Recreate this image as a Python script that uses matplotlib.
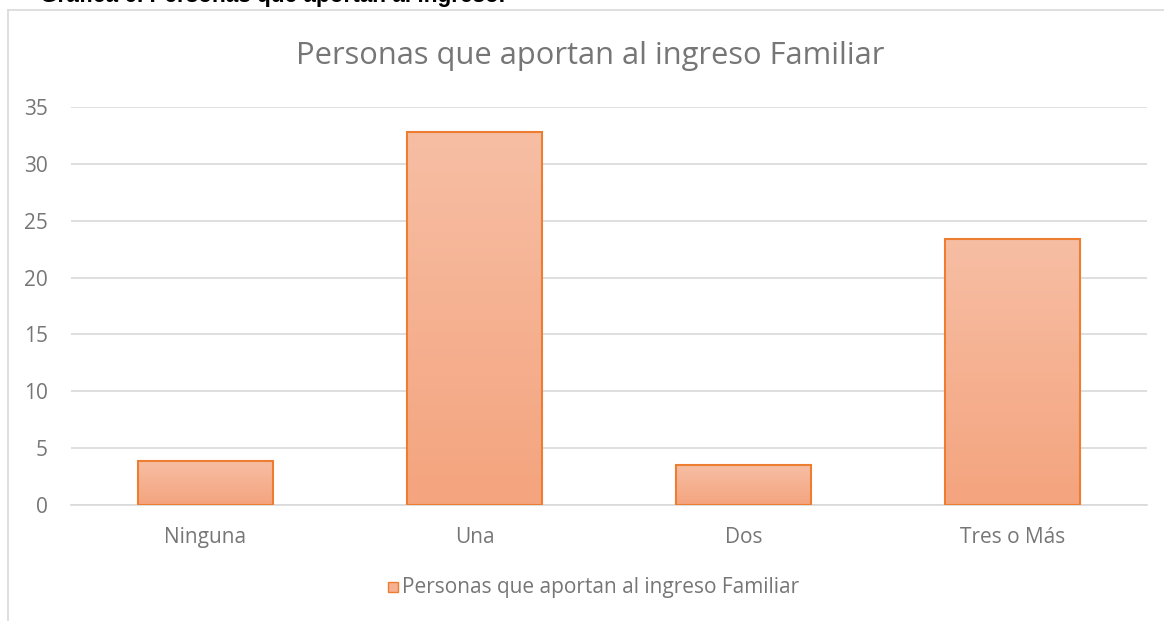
import numpy as np
import matplotlib
matplotlib.use('Agg')
import matplotlib.pyplot as plt
from matplotlib.patches import Rectangle

# data
categories = ['Ninguna', 'Una', 'Dos', 'Tres o Más']
values = [3.9, 32.8, 3.5, 23.4]
yticks = [0, 5, 10, 15, 20, 25, 30, 35]
title = 'Personas que aportan al ingreso Familiar'
caption = 'Gráfica 6. Personas que aportan al ingreso.'

plt.rcParams['font.family'] = ['Open Sans', 'DejaVu Sans']
gray = '#767676'
grid = '#D9D9D9'

W, H = 1164, 621
fig = plt.figure(figsize=(W / 100, H / 100), dpi=100)
ax = fig.add_axes([71 / W, 1 - 505 / H, (1147 - 71) / W, (505 - 107) / H])

x = np.arange(len(categories))
bars = ax.bar(x, values, width=0.5, color='none', edgecolor='#ED7D31', linewidth=1.5, zorder=3)

# vertical gradient fill inside each bar
grad = np.linspace(0, 1, 256).reshape(-1, 1)
cmap = matplotlib.colors.LinearSegmentedColormap.from_list('g', ['#F4A47E', '#F7BEA4'])
for b in bars:
    x0, y0 = b.get_x(), b.get_y()
    w, h = b.get_width(), b.get_height()
    im = ax.imshow(grad, extent=[x0, x0 + w, y0, y0 + h], origin='lower',
                   cmap=cmap, aspect='auto', zorder=2)
    im.set_clip_path(b)

ax.set_xlim(-0.5, len(categories) - 0.5)
ax.set_ylim(0, 35)
ax.set_yticks(yticks)
ax.set_xticks(x)
ax.set_xticklabels(categories)
ax.yaxis.grid(True, color=grid, linewidth=1.2, zorder=0)
ax.set_axisbelow(True)
for s in ['top', 'right', 'left']:
    ax.spines[s].set_visible(False)
ax.spines['bottom'].set_color(grid)
ax.spines['bottom'].set_linewidth(1.2)
ax.tick_params(axis='both', length=0, labelsize=15, colors=gray)
ax.tick_params(axis='x', pad=16)
ax.tick_params(axis='y', pad=16.5)

fig.text(590 / W, 1 - 56 / H, title, ha='center', va='center', fontsize=22.2, color=gray)

# legend
fig.patches.append(Rectangle((388 / W, 1 - 592 / H), 10 / W, 10 / H, transform=fig.transFigure,
                             facecolor='#F5B190', edgecolor='#ED7D31', linewidth=1))
fig.text(402 / W, 1 - 588 / H, title, ha='left', va='center', fontsize=15, color=gray)

# chart area border (left and top visible)
fig.add_artist(plt.Line2D([7.5 / W, 7.5 / W], [0, 1 - 9.5 / H], transform=fig.transFigure, color=grid, linewidth=1.2))
fig.add_artist(plt.Line2D([7.5 / W, 1], [1 - 9.5 / H, 1 - 9.5 / H], transform=fig.transFigure, color=grid, linewidth=1.2))

# caption cut off at top of picture
fig.text(40 / W, 1 - 2 / H, caption, ha='left', va='baseline', fontsize=16.3, fontweight='bold',
         color='black', family=['Liberation Sans', 'DejaVu Sans'])

fig.savefig('out.png', dpi=100)
